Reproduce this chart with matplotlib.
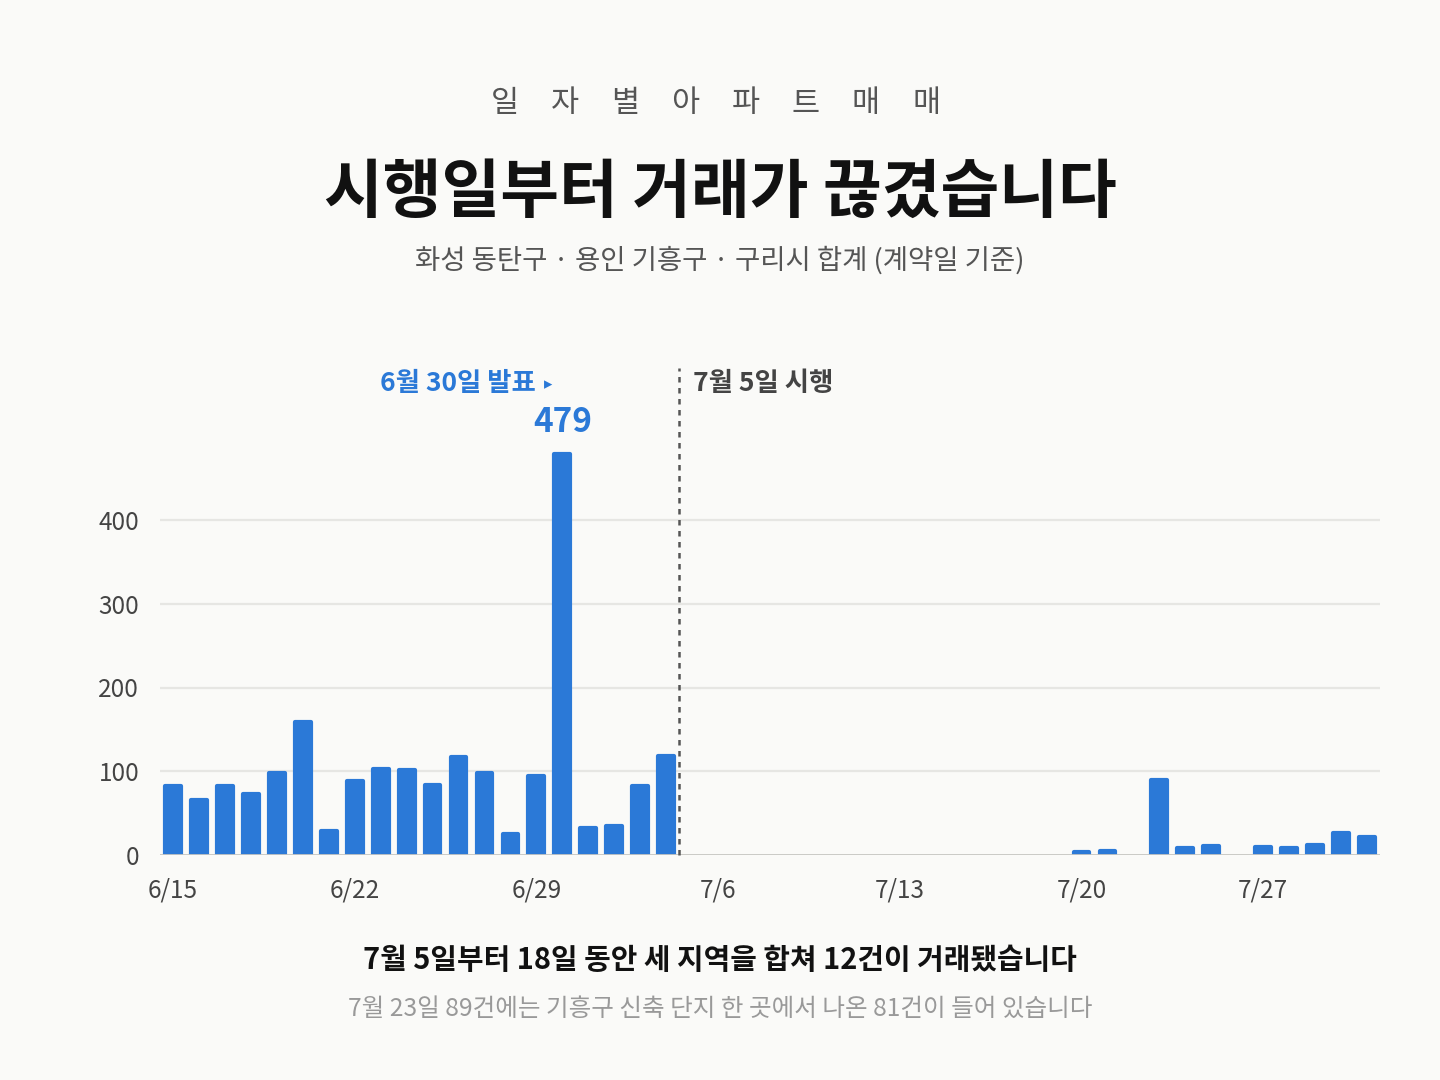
import matplotlib
matplotlib.use("Agg")
import matplotlib.pyplot as plt
import numpy as np

plt.rcParams['font.family'] = ['Noto Sans CJK KR', 'DejaVu Sans']

# ---------------- data ----------------
dates = (["6/%d" % d for d in range(15, 31)] + ["7/%d" % d for d in range(1, 32)])
values = [82, 66, 82, 73, 98, 159, 29, 88, 103, 101, 83, 117, 98, 25, 94, 479,
          32, 35, 82, 118,
          0, 0, 0, 0, 0, 0, 0, 0, 0, 0, 0, 0, 0, 0, 0, 3, 5, 0,
          89, 8, 11, 0, 9, 8, 12, 26, 22]
tick_labels = ["6/15", "6/22", "6/29", "7/6", "7/13", "7/20", "7/27"]
y_ticks = [0, 100, 200, 300, 400]
kicker = "일자별아파트매매"
title = "시행일부터 거래가 끊겼습니다"
subtitle = "화성 동탄구 · 용인 기흥구 · 구리시 합계 (계약일 기준)"
note_main = "7월 5일부터 18일 동안 세 지역을 합쳐 12건이 거래됐습니다"
note_sub = "7월 23일 89건에는 기흥구 신축 단지 한 곳에서 나온 81건이 들어 있습니다"
announce_label = "6월 30일 발표"
announce_arrow = "▸"
enforce_label = "7월 5일 시행"
announce_date = "6/30"
enforce_date = "7/5"

BG = "#fafaf8"
BLUE = "#2b79d7"
DARK = "#111111"
GRAY = "#555555"
LIGHT = "#999999"

W, H = 1440, 1080
fig = plt.figure(figsize=(W / 100, H / 100), dpi=100, facecolor=BG)

ax_left, ax_right = 160 / W, 1380 / W
ax_bottom = 1 - 855 / H
ymax = 500
px_per_unit = 335 / 400
ax_h = ymax * px_per_unit / H
ax = fig.add_axes([ax_left, ax_bottom, ax_right - ax_left, ax_h])
ax.set_facecolor(BG)

x = np.arange(len(dates))
lws = [3.0 if v > 0 else 0 for v in values]
ax.bar(x, values, width=0.61, color=BLUE, edgecolor=BLUE, linewidth=lws,
       joinstyle='round', zorder=3)
ax.set_xlim(-0.5, len(dates) - 0.5)
ax.set_ylim(0, ymax)

for s in ax.spines.values():
    s.set_visible(False)
ax.axhline(0, color="#c6c6c2", lw=2, zorder=4)
for yv in y_ticks[1:]:
    ax.axhline(yv, color="#e6e6e3", lw=1.6, zorder=1)

ax.set_yticks(y_ticks)
ax.set_yticklabels([str(v) for v in y_ticks])
ax.set_xticks([dates.index(t) for t in tick_labels])
ax.set_xticklabels(tick_labels)
ax.tick_params(axis='both', length=0, labelsize=17.5, labelcolor="#444444")
ax.tick_params(axis='y', pad=15)
ax.tick_params(axis='x', pad=16.5)

# event line
i_ann = dates.index(announce_date)
i_enf = dates.index(enforce_date)
line_x = i_enf - 0.5
top_y = (855 - 368) / px_per_unit
ax.plot([line_x, line_x], [0, top_y], color="#555555", lw=1.8,
        linestyle=(0, (2.2, 2.2)), clip_on=False, zorder=5)

label_y = (855 - 384) / px_per_unit
ax.text(line_x + 0.55, label_y, enforce_label, ha='left', va='center',
        fontsize=19, fontweight='bold', color="#444444")
ax.annotate(announce_arrow, xy=(i_ann - 0.38, label_y), xytext=(0, 0),
            textcoords='offset points', ha='right', va='center',
            fontsize=12, color=BLUE, family=['DejaVu Sans'],
            annotation_clip=False)
ax.annotate(announce_label, xy=(i_ann - 0.38, label_y), xytext=(-12, 0),
            textcoords='offset points', ha='right', va='center',
            fontsize=19, fontweight='bold', color=BLUE,
            annotation_clip=False)
ax.annotate(str(values[i_ann]), xy=(i_ann, values[i_ann]), xytext=(0, 11),
            textcoords='offset points', ha='center', va='bottom',
            fontsize=24, fontweight='bold', color=BLUE,
            annotation_clip=False)

# titles
spacing = 60.2
cx = 715.5
n = len(kicker)
for k, ch in enumerate(kicker):
    xp = cx + (k - (n - 1) / 2) * spacing
    fig.text(xp / W, 1 - 104 / H, ch, ha='center', va='center',
             fontsize=22, color=GRAY)
fig.text(0.5, 1 - 193 / H, title, ha='center', va='center',
         fontsize=46, fontweight='black', color=DARK)
fig.text(0.5, 1 - 260 / H, subtitle, ha='center', va='center',
         fontsize=19.8, color=GRAY)
fig.text(0.5, 1 - 960 / H, note_main, ha='center', va='center',
         fontsize=20.8, fontweight='bold', color=DARK)
fig.text(0.5, 1 - 1009 / H, note_sub, ha='center', va='center',
         fontsize=17.7, color=LIGHT)

fig.savefig("out.png", dpi=100, facecolor=BG)
